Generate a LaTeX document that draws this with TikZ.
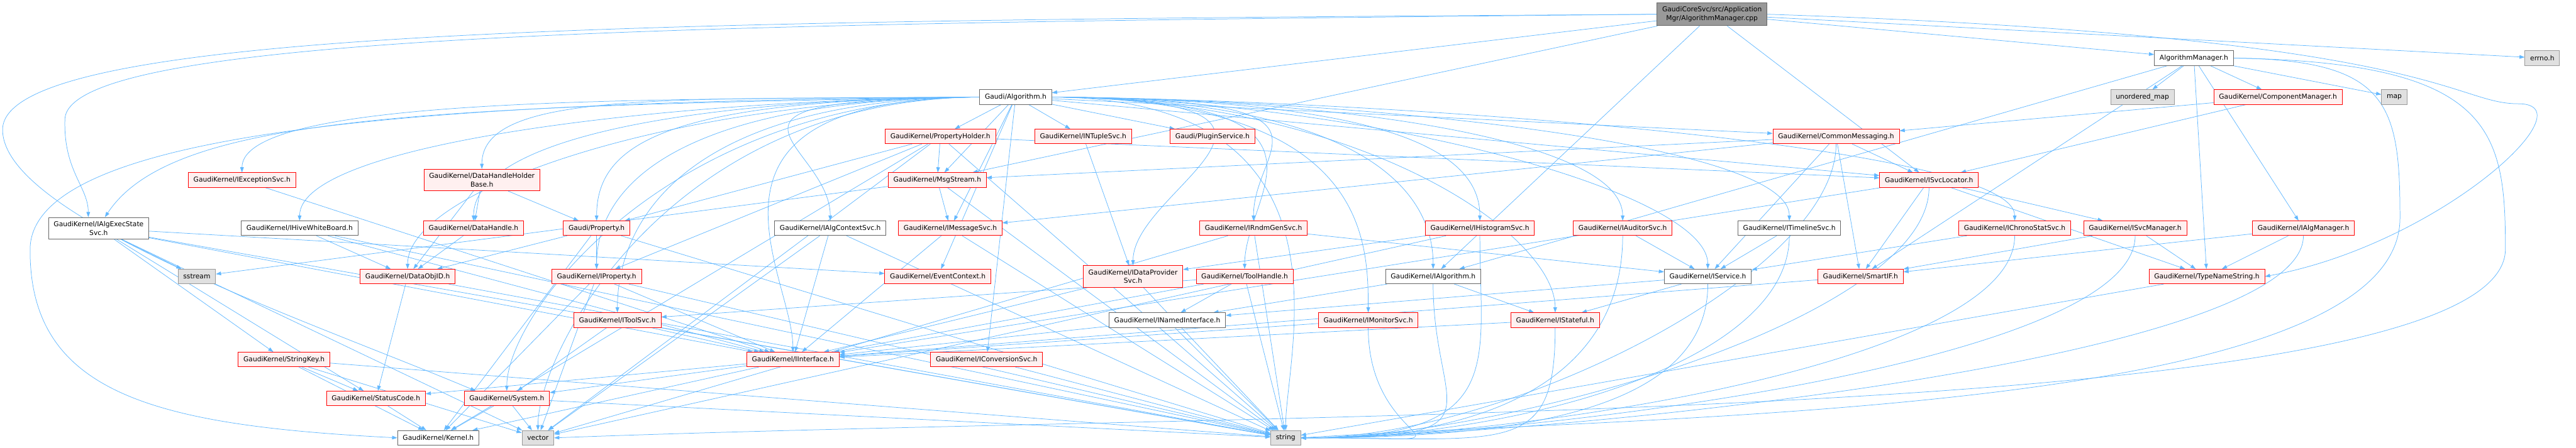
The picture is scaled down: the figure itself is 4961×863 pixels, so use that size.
\documentclass[tikz,border=0pt]{standalone}
\usepackage{fontspec}
\setmainfont{DejaVu Sans}
\usetikzlibrary{arrows.meta}
\pgfdeclarelayer{bg}
\pgfsetlayers{bg,main}
\definecolor{edgeblue}{HTML}{63B8FF}
\definecolor{redfill}{HTML}{FFF0F0}
\definecolor{leaffill}{HTML}{E0E0E0}
\definecolor{rootfill}{HTML}{999999}
\definecolor{greyforty}{HTML}{666666}
\definecolor{greysixty}{HTML}{999999}

\begin{document}
\begin{tikzpicture}[x=1pt, y=-1pt, >={Stealth[length=10pt,width=7pt,inset=0pt]},
	hdr/.style={draw=greyforty, fill=white, line width=1.1pt, inner xsep=10pt, inner ysep=7.5pt, minimum height=28pt, align=center, font=\fontsize{13}{16.5}\selectfont},
	redhdr/.style={hdr, draw=red, fill=redfill},
	syshdr/.style={hdr, draw=greysixty, fill=leaffill},
	roothdr/.style={hdr, fill=rootfill},
	inc/.style={->, draw=edgeblue, line width=0.9pt}]
				\useasboundingbox (0,0) rectangle (4961,863);
				
				% Tệp gốc và hàng đầu
				\node[roothdr] (root) at (3297,27.5) {GaudiCoreSvc/src/Application\\Mgr/AlgorithmManager.cpp};
				\node[hdr] (amh) at (4225,112) {AlgorithmManager.h};
				\node[syshdr] (errno) at (4896,112) {errno.h};
				\node[hdr] (alg) at (1956,187) {Gaudi/Algorithm.h};
				\node[syshdr] (umap) at (4126,187) {unordered\_map};
				\node[redhdr] (compmgr) at (4387,187) {GaudiKernel/ComponentManager.h};
				\node[syshdr] (map) at (4611,187) {map};
				\node[redhdr] (propholder) at (1811,263) {GaudiKernel/PropertyHolder.h};
				\node[redhdr] (ntuple) at (2086,263) {GaudiKernel/INTupleSvc.h};
				\node[redhdr] (plugin) at (2335,263) {Gaudi/PluginService.h};
				\node[redhdr] (commsg) at (3536,263) {GaudiKernel/CommonMessaging.h};
				\node[redhdr] (excsvc) at (466,347) {GaudiKernel/IExceptionSvc.h};
				\node[redhdr] (dhhb) at (928,347) {GaudiKernel/DataHandleHolder\\Base.h};
				\node[redhdr] (msgstream) at (1805,347) {GaudiKernel/MsgStream.h};
				\node[redhdr] (svcloc) at (3715,347) {GaudiKernel/ISvcLocator.h};
				
				% Hàng các dịch vụ
				\node[hdr] (execstate) at (190,440) {GaudiKernel/IAlgExecState\\Svc.h};
				\node[hdr] (hive) at (577,440) {GaudiKernel/IHiveWhiteBoard.h};
				\node[redhdr] (datahandle) at (912,440) {GaudiKernel/DataHandle.h};
				\node[redhdr] (property) at (1149,440) {Gaudi/Property.h};
				\node[hdr] (algctx) at (1599,440) {GaudiKernel/IAlgContextSvc.h};
				\node[redhdr] (msgsvc) at (1830,440) {GaudiKernel/IMessageSvc.h};
				\node[redhdr] (rndm) at (2414,440) {GaudiKernel/IRndmGenSvc.h};
				\node[redhdr] (histo) at (2850,440) {GaudiKernel/IHistogramSvc.h};
				\node[redhdr] (auditor) at (3125,440) {GaudiKernel/IAuditorSvc.h};
				\node[hdr] (timeline) at (3446,440) {GaudiKernel/ITimelineSvc.h};
				\node[redhdr] (chrono) at (3880,440) {GaudiKernel/IChronoStatSvc.h};
				\node[redhdr] (svcmgr) at (4112,440) {GaudiKernel/ISvcManager.h};
				\node[redhdr] (algmgr) at (4436,440) {GaudiKernel/IAlgManager.h};
				
				\node[syshdr] (sstream) at (379,533) {sstream};
				\node[redhdr] (dataobjid) at (785,533) {GaudiKernel/DataObjID.h};
				\node[redhdr] (iprop) at (1149,533) {GaudiKernel/IProperty.h};
				\node[redhdr] (evtctx) at (1806,533) {GaudiKernel/EventContext.h};
				\node[redhdr] (dataprov) at (2182,533) {GaudiKernel/IDataProvider\\Svc.h};
				\node[redhdr] (toolhandle) at (2397,533) {GaudiKernel/ToolHandle.h};
				\node[hdr] (ialg) at (2760,533) {GaudiKernel/IAlgorithm.h};
				\node[hdr] (iservice) at (3289,533) {GaudiKernel/IService.h};
				\node[redhdr] (smartif) at (3583,533) {GaudiKernel/SmartIF.h};
				\node[redhdr] (typename) at (4250,533) {GaudiKernel/TypeNameString.h};
				
				\node[redhdr] (toolsvc) at (1189,617) {GaudiKernel/IToolSvc.h};
				\node[hdr] (named) at (2248,617) {GaudiKernel/INamedInterface.h};
				\node[redhdr] (monitor) at (2635,617) {GaudiKernel/IMonitorSvc.h};
				\node[redhdr] (stateful) at (2995,617) {GaudiKernel/IStateful.h};
				
				% Các tệp cơ sở ở dưới cùng
				\node[redhdr] (stringkey) at (547,693) {GaudiKernel/StringKey.h};
				\node[redhdr] (iinterface) at (1527,693) {GaudiKernel/IInterface.h};
				\node[redhdr] (convsvc) at (1900,693) {GaudiKernel/IConversionSvc.h};
				\node[redhdr] (statuscode) at (724,768) {GaudiKernel/StatusCode.h};
				\node[redhdr] (system) at (976,768) {GaudiKernel/System.h};
				\node[hdr] (kernel) at (844,844) {GaudiKernel/Kernel.h};
				\node[syshdr] (vector) at (1036,844) {vector};
				\node[syshdr] (string) at (2476,844) {string};
				
				% Các mũi tên include
				\begin{pgfonlayer}{bg}
				% đường vòng ngoài
				\draw[inc] (root.west) .. controls (1400,45) and (130,60) .. (125,230) .. controls (122,330) and (170,360) .. ([xshift=-20pt]execstate.north);
				\draw[inc] (root.west) .. controls (1300,40) and (5,50) .. (5,250) .. controls (5,420) and (600,620) .. ([xshift=-60pt]system.north);
				\draw[inc] (root.east) .. controls (4700,70) and (4720,200) .. (4850,200) .. controls (4990,200) and (4700,470) .. (typename.east);
				\draw[inc] (alg.west) .. controls (900,195) and (60,240) .. (58,480) .. controls (56,760) and (300,820) .. (kernel.west);
				\draw[inc] (alg.west) .. controls (800,205) and (330,225) .. ([xshift=12pt]execstate.north);
				\draw[inc] (amh.east) .. controls (4600,115) and (4622,200) .. (4622,420) .. controls (4622,800) and (3200,800) .. (string.east);
				\draw[inc] (amh.east) .. controls (4800,120) and (4825,250) .. (4825,480) .. controls (4825,820) and (2500,790) .. (vector.east);
				
				% nhánh của Gaudi/Algorithm.h
				\foreach \b in {excsvc, dhhb, hive, datahandle, property, dataobjid, iprop, toolsvc, system, algctx, iinterface, vector} {
					\draw[inc] (alg.west) .. controls +(-600,5) and +(0,-150) .. (\b.north);
				}
				\foreach \b in {iservice, stateful, ialg, auditor, chrono, timeline, histo, monitor, rndm, toolhandle, dataprov, string} {
					\draw[inc] (alg.east) .. controls +(600,5) and +(0,-150) .. (\b.north);
				}
				\foreach \b in {plugin, commsg, svcloc, msgsvc, msgstream, propholder, convsvc, evtctx, ntuple} {
					\draw[inc] (alg) -- (\b);
				}
				
				\foreach \a in {algmgr, svcmgr, chrono, timeline, svcloc, commsg, auditor, histo, iservice, ialg, stateful, monitor} {
					\draw[inc] (\a.south) .. controls +(0,250) and +(400,0) .. (string.east);
				}
				
				\foreach \a/\b in {root/amh, root/errno, root/alg, root/ialg, root/svcloc, root/msgstream,
					amh/umap, amh/compmgr, amh/map, amh/algmgr, amh/ialg, amh/smartif, amh/typename,
					compmgr/commsg, compmgr/svcloc} {
					\draw[inc] (\a) -- (\b);
				}
				\foreach \a/\b in {propholder/property, propholder/iprop, propholder/msgstream, propholder/svcloc, propholder/kernel, propholder/string, propholder/vector,
					ntuple/dataprov,
					commsg/svcloc, commsg/msgstream, commsg/msgsvc, commsg/smartif, commsg/iservice,
					excsvc/iinterface,
					dhhb/datahandle, dhhb/dataobjid, dhhb/property,
					msgstream/msgsvc, msgstream/sstream, msgstream/string,
					svcloc/iinterface, svcloc/smartif, svcloc/svcmgr, svcloc/typename,
					execstate/sstream, execstate/stringkey, execstate/statuscode, execstate/iinterface, execstate/evtctx, execstate/string, execstate/vector,
					hive/dataobjid, hive/iinterface, hive/string,
					datahandle/dataobjid,
					property/iprop, property/dataobjid, property/kernel, property/string,
					algctx/iinterface, algctx/string, algctx/vector,
					msgsvc/iinterface, msgsvc/string,
					rndm/iservice, rndm/string, rndm/vector,
					histo/dataprov, histo/vector,
					auditor/iservice, timeline/iservice, chrono/iservice,
					svcmgr/smartif, svcmgr/typename,
					algmgr/smartif, algmgr/typename} {
					\draw[inc] (\a) -- (\b);
				}
				\foreach \a/\b in {dataobjid/statuscode, dataobjid/string,
					iprop/iinterface, iprop/kernel, iprop/string, iprop/vector,
					dataprov/iinterface, dataprov/string,
					toolhandle/toolsvc, toolhandle/named, toolhandle/iinterface, toolhandle/string,
					ialg/named, ialg/stateful,
					iservice/named, iservice/stateful,
					smartif/iinterface, typename/string,
					toolsvc/system, toolsvc/iinterface, toolsvc/string,
					named/iinterface, named/string,
					monitor/iinterface, stateful/iinterface,
					stringkey/statuscode, stringkey/kernel, stringkey/string, stringkey/vector,
					iinterface/system, iinterface/kernel, iinterface/statuscode,
					convsvc/string, statuscode/kernel,
					system/kernel, system/vector, system/string} {
					\draw[inc] (\a) -- (\b);
				}
				\end{pgfonlayer}
			\end{tikzpicture}
\end{document}
